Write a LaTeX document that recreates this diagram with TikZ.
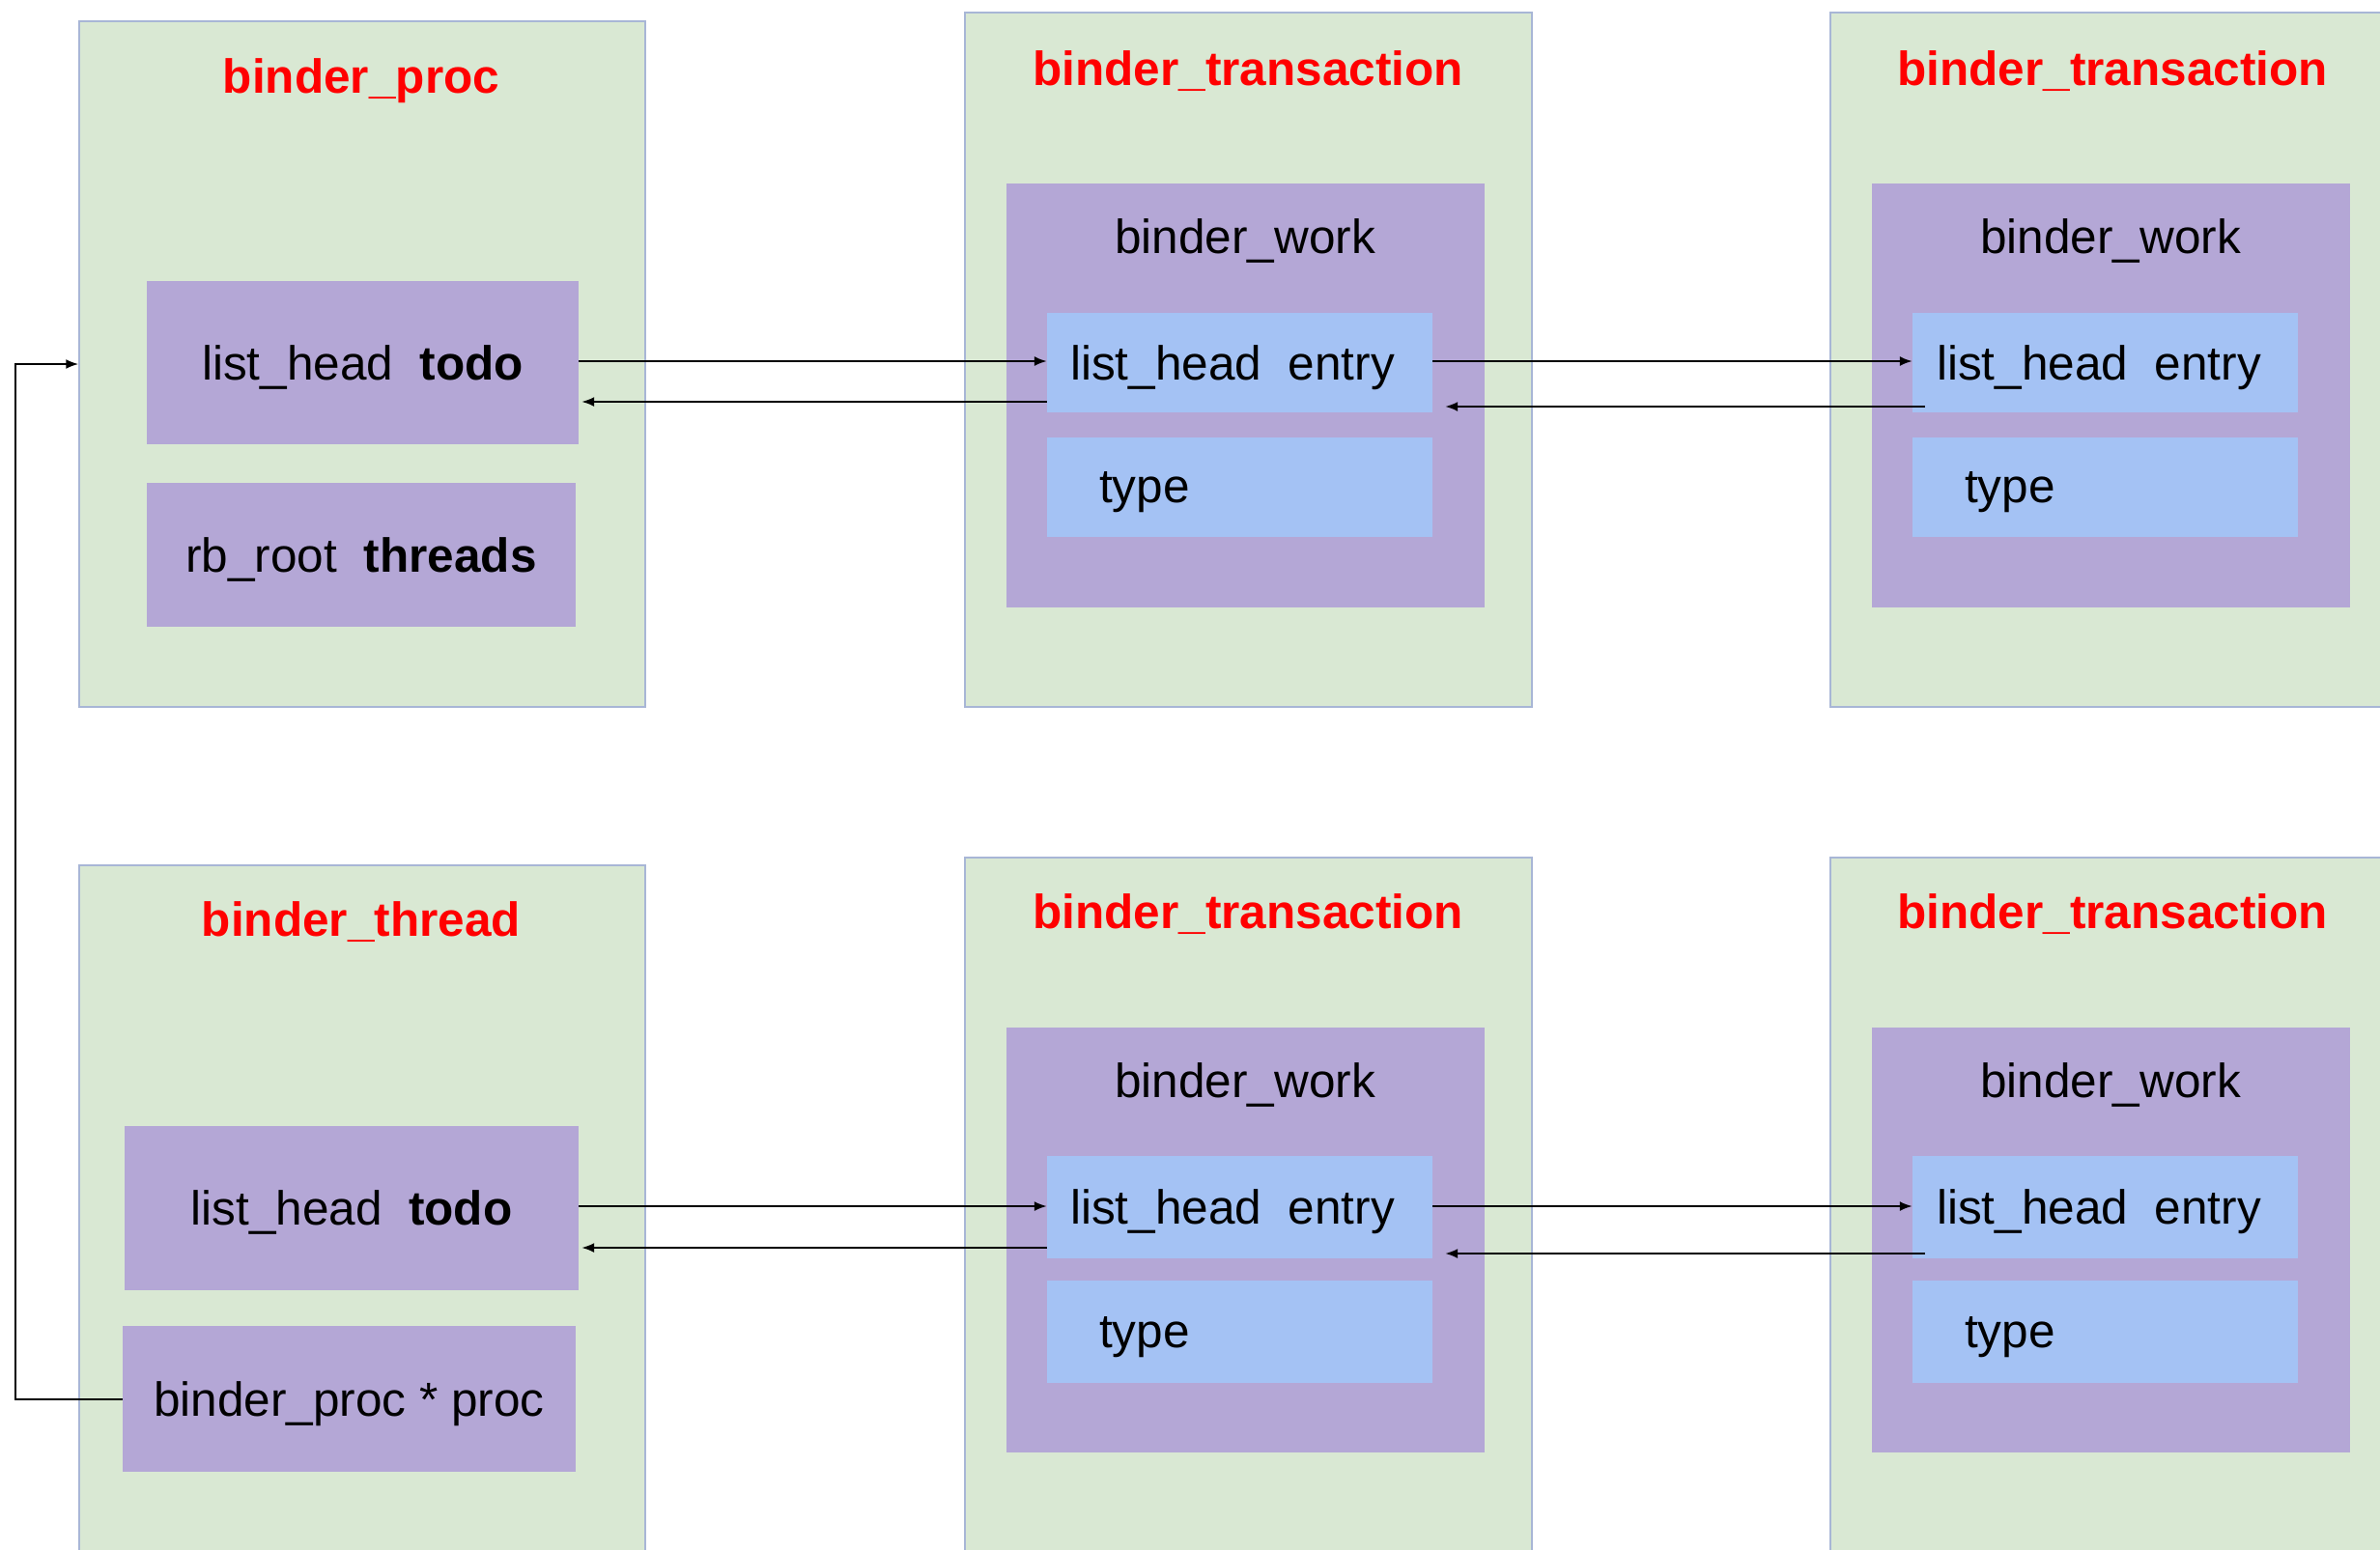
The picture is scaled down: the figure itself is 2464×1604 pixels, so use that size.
\documentclass[tikz,border=0pt]{standalone}
\usepackage{fontspec}
\setmainfont{Liberation Sans}
\usetikzlibrary{arrows.meta}
\definecolor{grn}{HTML}{D9E8D3}
\definecolor{grnb}{HTML}{A8B6D6}
\definecolor{pur}{HTML}{B4A7D6}
\definecolor{blu}{HTML}{A4C2F4}
\definecolor{ttl}{HTML}{FF0000}
\begin{document}
\begin{tikzpicture}[x=1pt,y=-1pt,
  every node/.style={font=\fontsize{49.5pt}{60pt}\selectfont, inner sep=0pt, text depth=0pt},
  outerbox/.style={draw=grnb, line width=1.5pt, fill=grn},
  purbox/.style={fill=pur},
  blubox/.style={fill=blu},
  ttlnode/.style={text=ttl, font=\fontsize{49.5pt}{60pt}\selectfont\bfseries},
  arr/.style={line width=2pt, -{Latex[length=13pt,width=10pt]}},
  ln/.style={line width=2pt}]
\useasboundingbox (0,0) rectangle (2464,1604);
\clip (0,0) rectangle (2464,1604);
\fill[white] (0,0) rectangle (2464,1604);
% ---- top row ----
\node[outerbox, minimum width=586pt, minimum height=710pt] (proc) at (375,377) {};
\node[ttlnode] (tproc) at (374,79) {binder\_proc};
\node[purbox, minimum width=447pt, minimum height=169pt] (todoA) at (375.5,375.5) {list\_head\ \ \textbf{todo}};
\node[purbox, minimum width=444pt, minimum height=149pt] (thr) at (374,574.5) {rb\_root\ \ \textbf{threads}};

\node[outerbox, minimum width=587pt, minimum height=719pt] (txA) at (1292.5,372.5) {};
\node[ttlnode] (ttxA) at (1292,71) {binder\_transaction};
\node[purbox, minimum width=495pt, minimum height=439pt] (bwA) at (1289.5,409.5) {};
\node (bwtA) at (1289,245) {binder\_work};
\node[blubox, minimum width=399pt, minimum height=103pt] (enA) at (1283.5,375.5) {};
\node (entA) at (1276,375.5) {list\_head\ \ entry};
\node[blubox, minimum width=399pt, minimum height=103pt] (tyA) at (1283.5,504.5) {};
\node[anchor=west] (tytA) at (1138,504.5) {type};

\node[outerbox, minimum width=605pt, minimum height=719pt] (txB) at (2197.5,372.5) {};
\node[ttlnode] (ttxB) at (2187,71) {binder\_transaction};
\node[purbox, minimum width=495pt, minimum height=439pt] (bwB) at (2185.5,409.5) {};
\node (bwtB) at (2185,245) {binder\_work};
\node[blubox, minimum width=399pt, minimum height=103pt] (enB) at (2179.5,375.5) {};
\node (entB) at (2173,375.5) {list\_head\ \ entry};
\node[blubox, minimum width=399pt, minimum height=103pt] (tyB) at (2179.5,504.5) {};
\node[anchor=west] (tytB) at (2034,504.5) {type};

% ---- bottom row ----
\node[outerbox, minimum width=586pt, minimum height=744pt] (thd) at (375,1268) {};
\node[ttlnode] (tthd) at (374,952) {binder\_thread};
\node[purbox, minimum width=470pt, minimum height=170pt] (todoB) at (364,1251) {list\_head\ \ \textbf{todo}};
\node[purbox, minimum width=469pt, minimum height=151pt] (pp) at (361.5,1448.5) {binder\_proc * proc};

\node[outerbox, minimum width=587pt, minimum height=752pt] (txC) at (1292.5,1264) {};
\node[ttlnode] (ttxC) at (1292,944) {binder\_transaction};
\node[purbox, minimum width=495pt, minimum height=440pt] (bwC) at (1289.5,1284) {};
\node (bwtC) at (1289,1119) {binder\_work};
\node[blubox, minimum width=399pt, minimum height=106pt] (enC) at (1283.5,1250) {};
\node (entC) at (1276,1250) {list\_head\ \ entry};
\node[blubox, minimum width=399pt, minimum height=106pt] (tyC) at (1283.5,1379) {};
\node[anchor=west] (tytC) at (1138,1379) {type};

\node[outerbox, minimum width=605pt, minimum height=752pt] (txD) at (2197.5,1264) {};
\node[ttlnode] (ttxD) at (2187,944) {binder\_transaction};
\node[purbox, minimum width=495pt, minimum height=440pt] (bwD) at (2185.5,1284) {};
\node (bwtD) at (2185,1119) {binder\_work};
\node[blubox, minimum width=399pt, minimum height=106pt] (enD) at (2179.5,1250) {};
\node (entD) at (2173,1250) {list\_head\ \ entry};
\node[blubox, minimum width=399pt, minimum height=106pt] (tyD) at (2179.5,1379) {};
\node[anchor=west] (tytD) at (2034,1379) {type};

% ---- connectors top ----
\draw[arr] (todoA.east |- 0,374) -- (enA.west |- 0,374);
\draw[arr] (enA.west |- 0,416) -- ([xshift=3pt]todoA.east |- 0,416);
\draw[arr] (enA.east |- 0,374) -- (enB.west |- 0,374);
\draw[arr] ([xshift=13pt]enB.west |- 0,421) -- ([xshift=13pt]enA.east |- 0,421);
% ---- connectors bottom ----
\draw[arr] (todoB.east |- 0,1249) -- (enC.west |- 0,1249);
\draw[arr] (enC.west |- 0,1292) -- ([xshift=3pt]todoB.east |- 0,1292);
\draw[arr] (enC.east |- 0,1249) -- (enD.west |- 0,1249);
\draw[arr] ([xshift=13pt]enD.west |- 0,1298) -- ([xshift=13pt]enC.east |- 0,1298);
% ---- loop back ----
\coordinate (lp) at (16,0);
\draw[arr] (pp.west) -- (lp |- pp.west) -- (lp |- 0,377) -- (proc.west |- 0,377);
\end{tikzpicture}
\end{document}
